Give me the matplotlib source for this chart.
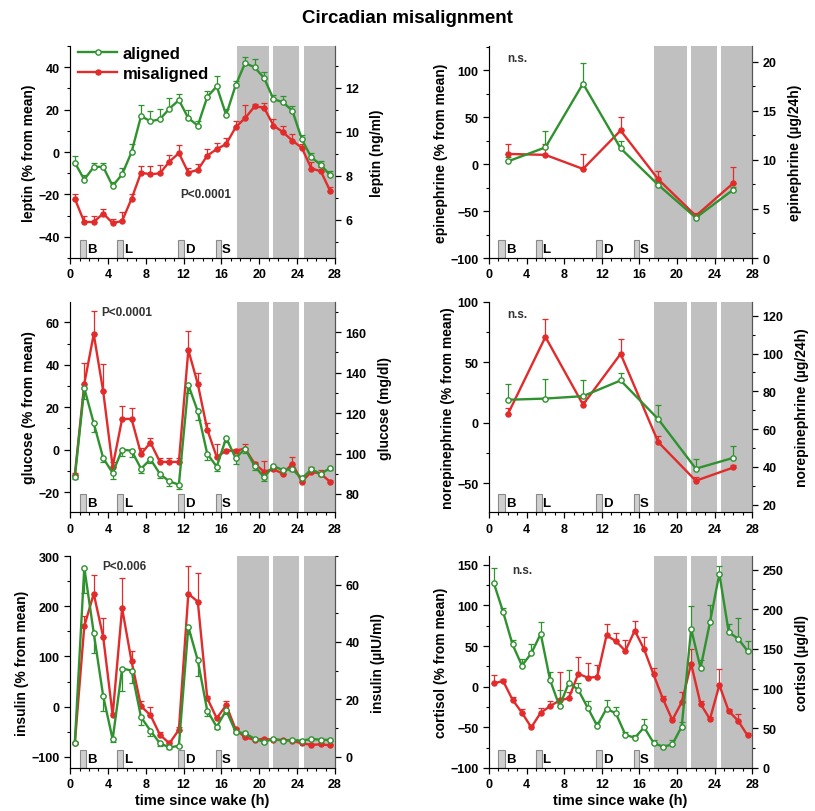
import numpy as np
import matplotlib
matplotlib.use("Agg")
import matplotlib.pyplot as plt
from matplotlib.patches import Rectangle
from matplotlib.ticker import MultipleLocator, AutoMinorLocator

plt.rcParams['font.family'] = ['Liberation Sans', 'DejaVu Sans']
plt.rcParams['font.weight'] = 'bold'

GREEN = '#2f922f'
RED = '#e22b2b'
BAND = '#c0c0c0'

# hourly samples (blood) and 4-h urine collections
t_hourly = [0.5 + i for i in range(28)]
t_urine = [2, 6, 10, 14, 18, 22, 26]

# dim-light/sleep bands and meals (B, L, D, S)
bands = [(17.6, 21.05), (21.5, 24.25), (24.7, 28.0)]
meals = [(1.0, 1.7, 'B'), (4.95, 5.6, 'L'), (11.4, 12.05, 'D'), (15.4, 15.95, 'S')]

# leptin
leptin_al = [-5, -13, -7, -7, -16, -10.5, 0, 17, 14.5, 15.5, 20.5, 24.5, 16, 12.5,
             26, 31, 17.5, 31.5, 42, 40, 35, 25, 23.5, 19.5, 6, -2.5, -6, -11]
leptin_al_err = [3, 2, 2, 2, 2, 3, 4, 5, 5, 5, 5, 3, 4, 2, 3, 5, 3, 2, 3, 4, 3, 2, 3, 2, 2, 2, 2, 2]
leptin_mis = [-22, -33, -33, -29, -33.5, -32.5, -22, -9.7, -10.5, -10, -4.5, -0.5, -9.7, -8.4,
              -1.7, 1.4, 3.8, 11.7, 16, 21.5, 21, 12.5, 9.4, 5.4, 2, -7.8, -9, -18.4]
leptin_mis_err = [2, 3, 3, 2, 2, 4, 2, 3, 4, 4, 3, 4, 2, 3, 3, 3, 3, 3, 6, 1, 2, 3, 3, 3, 2, 3, 2, 2]

# glucose
glucose_al = [-13, 29, 12.5, -4, -11, 0, -0.5, -9, -4.5, -11.5, -15, -16.5, 30.5, 18,
              -2, -8, 5.5, -4, 0.5, -7.7, -13, -7.7, -9.7, -9.3, -13.6, -9.3, -11.4, -8.7]
glucose_al_err = [1, 5, 4, 2, 3, 3, 3, 2, 2, 2, 2, 2, 4, 4, 3, 2, 2, 3, 2, 2, 2, 1, 2, 1, 1, 1, 1, 1]
glucose_mis = [-12, 31, 54.5, 27.5, -8, 14.5, 14.5, -2, 3.3, -5.8, -5.8, -5.8, 47, 31,
               9.5, -3.5, -0.5, -0.5, 0.5, -6.6, -10.4, -9.2, -11.4, -6.6, -15.2, -10.4, -11.4, -15.2]
glucose_mis_err = [1, 10, 11, 13, 2, 6, 5, 3, 2, 2, 2, 2, 9, 5, 3, 6, 1, 1, 2, 1, 5, 1, 2, 3, 1, 2, 2, 1]

# insulin
insulin_al = [-73, 277, 147, 21, -65, 76, 72, -21, -48, -73, -81, -78, 159, 92,
              -8, -40, -7, -50, -53, -64, -70, -64, -68, -66, -68, -64, -66, -66]
insulin_al_err = [2, 50, 40, 30, 5, 45, 25, 15, 10, 5, 3, 2, 15, 30, 10, 5, 8, 3, 2, 2, 2, 2, 2, 2, 2, 2, 2, 2]
insulin_mis = [-73, 160, 225, 139, -17, 196, 90, 1, -17, -56, -73, -46, 225, 209,
               17, -23, 3, -45, -61, -66, -64, -66, -66, -68, -73, -76, -75, -77]
insulin_mis_err = [2, 20, 38, 38, 5, 60, 20, 10, 17, 5, 5, 5, 55, 57, 5, 3, 8, 2, 2, 2, 2, 2, 2, 2, 2, 2, 2, 2]

# epinephrine
epi_al = [3, 18, 86, 17, -22, -57, -27]
epi_al_err = [5, 17, 22, 8, 3, 3, 3]
epi_mis = [11, 10, -5, 36, -16, -55, -20]
epi_mis_err = [11, 12, 16, 14, 9, 3, 17]

# norepinephrine
nor_al = [19, 20, 22, 35, 3, -38, -29]
nor_al_err = [13, 16, 13, 6, 12, 8, 10]
nor_mis = [7, 71, 15, 57, -16, -48, -37]
nor_mis_err = [5, 15, 3, 12, 5, 3, 2]

# cortisol
cort_al = [128, 92, 52, 26, 41, 65, 8, -24, 5, -4, -26, -48, -27, -33,
           -59, -63, -50, -69, -74, -71, -49, 71, 23, 79, 139, 67, 59, 44]
cort_al_err = [18, 5, 5, 8, 12, 15, 10, 20, 15, 8, 8, 5, 10, 8, 3, 3, 10, 3, 2, 5, 5, 28, 10, 22, 10, 10, 25, 12]
cort_mis = [4, 7, -16, -32, -50, -32, -24, -17, -14, 16, 11, 12, 63, 56,
            44, 69, 46, 15, -15, -41, -19, 28, -21, -40, 2, -30, -42, -60]
cort_mis_err = [10, 3, 3, 5, 3, 6, 6, 35, 7, 20, 18, 15, 14, 10, 14, 12, 15, 8, 3, 3, 12, 18, 3, 3, 20, 3, 8, 3]

# panel settings: left ylim, left major step, right ylim, right major step, labels
panels = [
    dict(pos=(0.086, 0.681, 0.325, 0.261), t=t_hourly,
         al=leptin_al, al_err=leptin_al_err, mis=leptin_mis, mis_err=leptin_mis_err, al_down=False,
         ylim=(-50, 50), ystep=20, rlim=(4.25, 13.9), rstep=2,
         ylabel='leptin (% from mean)', rlabel='leptin (ng/ml)',
         note=('P<0.0001', 14.3, -20), legend=True),
    dict(pos=(0.600, 0.681, 0.323, 0.261), t=t_urine,
         al=epi_al, al_err=epi_al_err, mis=epi_mis, mis_err=epi_mis_err, al_down=False,
         ylim=(-100, 126), ystep=50, rlim=(0, 21.6), rstep=5,
         ylabel='epinephrine (% from mean)', rlabel='epinephrine (\u00b5g/24h)',
         note=('n.s.', 3.0, 113)),
    dict(pos=(0.086, 0.368, 0.325, 0.259), t=t_hourly,
         al=glucose_al, al_err=glucose_al_err, mis=glucose_mis, mis_err=glucose_mis_err, al_down=True,
         ylim=(-29.5, 69.7), ystep=20, rlim=(71, 175), rstep=20,
         ylabel='glucose (% from mean)', rlabel='glucose (mg/dl)',
         note=('P<0.0001', 6.0, 65)),
    dict(pos=(0.600, 0.368, 0.323, 0.259), t=t_urine,
         al=nor_al, al_err=nor_al_err, mis=nor_mis, mis_err=nor_mis_err, al_down=False,
         ylim=(-74, 100), ystep=50, rlim=(16, 127.4), rstep=20,
         ylabel='norepinephrine (% from mean)', rlabel='norepinephrine (\u00b5g/24h)',
         note=('n.s.', 3.0, 90)),
    dict(pos=(0.086, 0.053, 0.325, 0.261), t=t_hourly,
         al=insulin_al, al_err=insulin_al_err, mis=insulin_mis, mis_err=insulin_mis_err, al_down=True,
         ylim=(-122, 300), ystep=100, rlim=(-4, 70), rstep=20,
         ylabel='insulin (% from mean)', rlabel='insulin (\u00b5IU/ml)',
         note=('P<0.006', 5.7, 281), xlabel=True),
    dict(pos=(0.600, 0.053, 0.323, 0.261), t=t_hourly,
         al=cort_al, al_err=cort_al_err, mis=cort_mis, mis_err=cort_mis_err, al_down=False,
         ylim=(-100, 160.7), ystep=50, rlim=(0, 267), rstep=50,
         ylabel='cortisol (% from mean)', rlabel='cortisol (\u00b5g/dl)',
         note=('n.s.', 3.5, 144), xlabel=True),
]

fig = plt.figure(figsize=(8.15, 8.12), dpi=100)
fig.text(0.5, 0.977, 'Circadian misalignment', ha='center', va='center',
         fontsize=13.5, fontweight='bold')


def draw_panel(p):
    ax = fig.add_axes(p['pos'])
    lo, hi = p['ylim']
    ax.set_xlim(0, 28)
    ax.set_ylim(lo, hi)

    for a, b in bands:
        ax.axvspan(a, b, color=BAND, lw=0, zorder=0)
    mh = 0.085 * (hi - lo)
    for a, b, lab in meals:
        ax.add_patch(Rectangle((a, lo), b - a, mh, facecolor='#cfcfcf',
                               edgecolor='#8a8a8a', lw=0.8, zorder=1))
        ax.text(b + 0.1, lo + mh * 0.5, lab, ha='left', va='center',
                fontsize=9.5, fontweight='bold', zorder=2)

    t = np.array(p['t'])
    mis_err = np.array(p['mis_err'])
    al_err = np.array(p['al_err'])
    ax.errorbar(t, p['mis'], yerr=[np.zeros_like(mis_err), mis_err], fmt='none',
                ecolor=RED, elinewidth=0.9, capsize=2.2, capthick=0.9, zorder=3)
    if p['al_down']:
        al_yerr = [al_err, np.zeros_like(al_err)]
    else:
        al_yerr = [np.zeros_like(al_err), al_err]
    ax.errorbar(t, p['al'], yerr=al_yerr, fmt='none',
                ecolor=GREEN, elinewidth=0.9, capsize=2.2, capthick=0.9, zorder=3)
    ax.plot(t, p['mis'], '-o', color=RED, lw=1.7, ms=3.6, mfc=RED, mec=RED,
            label='misaligned', zorder=4)
    ax.plot(t, p['al'], '-o', color=GREEN, lw=1.7, ms=3.8, mfc='white', mec=GREEN,
            mew=1.0, label='aligned', zorder=5)

    ax.xaxis.set_major_locator(MultipleLocator(4))
    ax.xaxis.set_minor_locator(MultipleLocator(1))
    ax.yaxis.set_major_locator(MultipleLocator(p['ystep']))
    ax.yaxis.set_minor_locator(AutoMinorLocator(2))
    ax.tick_params(which='major', direction='out', length=4, width=0.9, labelsize=9)
    ax.tick_params(which='minor', direction='out', length=2, width=0.8)
    ax.spines['top'].set_visible(False)
    for s in ('left', 'bottom', 'right'):
        ax.spines[s].set_color('#555555')
    ax.set_ylabel(p['ylabel'], fontsize=10, fontweight='bold', labelpad=2)
    if p.get('xlabel'):
        ax.set_xlabel('time since wake (h)', fontsize=10.5, fontweight='bold', labelpad=2)

    txt, tx, ty = p['note']
    ax.text(tx, ty, txt, ha='center', va='center', fontsize=8.5, fontweight='bold',
            color='#333333', zorder=6)

    if p.get('legend'):
        h, l = ax.get_legend_handles_labels()
        ax.legend(h[::-1], l[::-1], loc='upper left', frameon=False, fontsize=12,
                  handlelength=2.3, handletextpad=0.35, borderaxespad=0.0,
                  borderpad=0.1, labelspacing=0.3, bbox_to_anchor=(0.025, 1.01))

    rx = ax.twinx()
    rx.set_ylim(*p['rlim'])
    rx.yaxis.set_major_locator(MultipleLocator(p['rstep']))
    rx.yaxis.set_minor_locator(AutoMinorLocator(2))
    rx.tick_params(which='major', direction='out', length=4, width=0.9, labelsize=9)
    rx.tick_params(which='minor', direction='out', length=2, width=0.8)
    rx.spines['top'].set_visible(False)
    rx.spines['right'].set_color('#555555')
    rx.set_ylabel(p['rlabel'], fontsize=10, fontweight='bold', rotation=90, labelpad=8)


for p in panels:
    draw_panel(p)

fig.savefig('out.png', dpi=100)
